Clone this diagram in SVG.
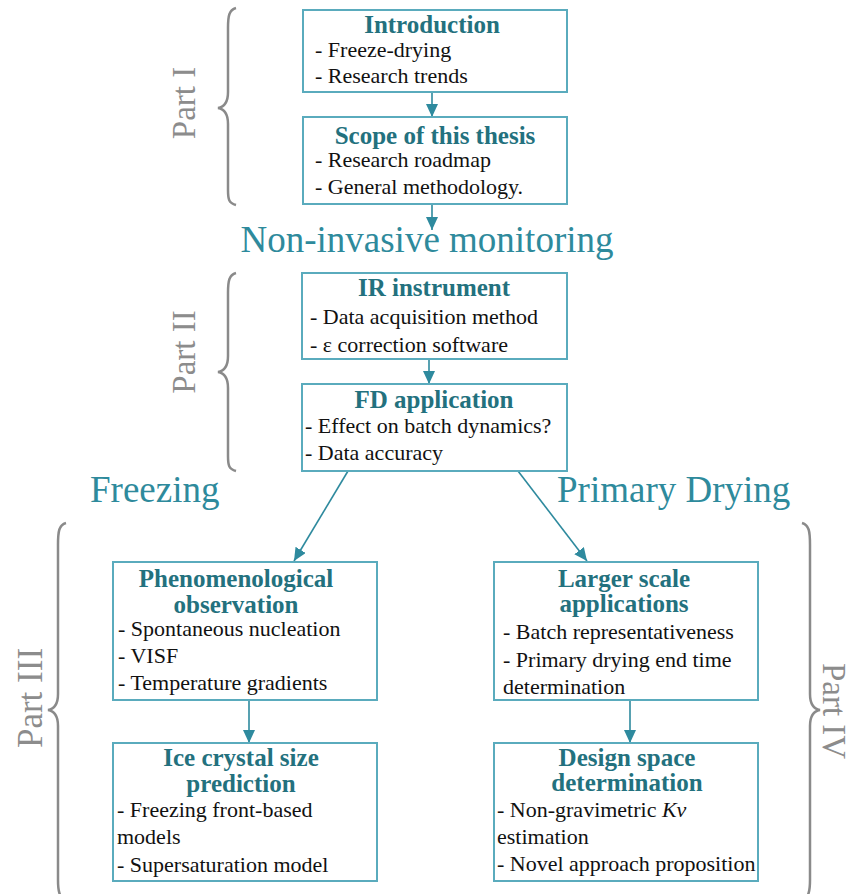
<svg xmlns="http://www.w3.org/2000/svg" width="854" height="894" viewBox="0 0 854 894">
<defs>
<marker id="ah" markerUnits="userSpaceOnUse" markerWidth="14" markerHeight="12" viewBox="0 0 14 12" refX="13" refY="6" orient="auto">
<path d="M0,0 L13,6 L0,12 Z" fill="#2e8a9e"/>
</marker>
</defs>
<style>
.box{fill:#fff;stroke:#5aabbd;stroke-width:2}
text{font-family:'Liberation Serif','DejaVu Serif',serif}
.t{font-weight:bold;font-size:25px;fill:#23717e;text-anchor:middle}
.b{font-size:22px;fill:#111}
.big{font-size:37px;fill:#2e8a9c}
.part{fill:#8c8c8c;text-anchor:middle}
.brace{fill:none;stroke:#8a8a8a;stroke-width:2.5}
.c{fill:none;stroke:#2e8a9e;stroke-width:1.6;marker-end:url(#ah)}
</style>
<rect width="854" height="894" fill="#fff"/>

<g id="braces">
<path class="brace" d="M236,8 C229,10 228,16 228,28 L228,92 C228,102 224,107 218,108 C224,109 228,114 228,124 L228,190 C228,200 229,203 236,205"/>
<path class="brace" d="M236,273 C229,275 228,281 228,293 L228,356 C228,366 224,371 218,372 C224,373 228,378 228,388 L228,456 C228,466 229,469 236,471"/>
<path class="brace" d="M66,523 C59,525 58,531 58,545 L58,694 C58,704 54,709 48,710 C54,711 58,716 58,726 L58,880 C58,890 59,898 66,900"/>
<path class="brace" d="M802,523 C809,525 810,531 810,545 L810,694 C810,704 814,709 820,710 C814,711 810,716 810,726 L810,880 C810,890 809,898 802,900"/>
</g>
<g id="part-labels">
<text class="part" font-size="33" transform="translate(195,103) rotate(-90)">Part I</text>
<text class="part" font-size="33" transform="translate(195,352) rotate(-90)">Part II</text>
<text class="part" font-size="35" transform="translate(42,698) rotate(-90)">Part III</text>
<text class="part" font-size="33" transform="translate(823,711) rotate(90)">Part IV</text>
</g>

<g id="section-labels">
<text class="big" x="427" y="252" text-anchor="middle">Non-invasive monitoring</text>
<text class="big" x="90" y="502">Freezing</text>
<text class="big" x="557" y="502">Primary Drying</text>
</g>

<g id="connectors">
<line class="c" x1="432" y1="92" x2="432" y2="117"/>
<line class="c" x1="432" y1="204" x2="432" y2="230"/>
<line class="c" x1="429" y1="359" x2="429" y2="384"/>
<line class="c" x1="348" y1="471" x2="294" y2="561"/>
<line class="c" x1="518" y1="471" x2="587" y2="561"/>
<line class="c" x1="249" y1="700" x2="249" y2="743"/>
<line class="c" x1="630" y1="700" x2="630" y2="743"/>
</g>

<g id="introduction">
<rect class="box" x="303" y="10" width="264" height="82"/>
<text class="t" x="432" y="33">Introduction</text>
<text class="b" x="315" y="57">- Freeze-drying</text>
<text class="b" x="315" y="83">- Research trends</text>
</g>

<g id="scope">
<rect class="box" x="303" y="117" width="264" height="87"/>
<text class="t" x="435" y="144">Scope of this thesis</text>
<text class="b" x="315" y="167">- Research roadmap</text>
<text class="b" x="315" y="194">- General methodology.</text>
</g>

<g id="ir-instrument">
<rect class="box" x="302" y="273" width="265" height="86"/>
<text class="t" x="434" y="296">IR instrument</text>
<text class="b" x="310" y="324">- Data acquisition method</text>
<text class="b" x="310" y="352">- ε correction software</text>
</g>

<g id="fd-application">
<rect class="box" x="302" y="384" width="265" height="87"/>
<text class="t" x="434" y="408">FD application</text>
<text class="b" x="305" y="433">- Effect on batch dynamics?</text>
<text class="b" x="305" y="460">- Data accuracy</text>
</g>

<g id="phenomenological">
<rect class="box" x="113" y="562" width="264" height="138"/>
<text class="t" x="236" y="587">Phenomenological</text>
<text class="t" x="236" y="613">observation</text>
<text class="b" x="118" y="636">- Spontaneous nucleation</text>
<text class="b" x="118" y="663">- VISF</text>
<text class="b" x="118" y="690">- Temperature gradients</text>
</g>

<g id="ice-crystal">
<rect class="box" x="113" y="743" width="264" height="138"/>
<text class="t" x="241" y="766">Ice crystal size</text>
<text class="t" x="241" y="792">prediction</text>
<text class="b" x="117" y="817">- Freezing front-based</text>
<text class="b" x="117" y="844">models</text>
<text class="b" x="117" y="872">- Supersaturation model</text>
</g>

<g id="larger-scale">
<rect class="box" x="494" y="562" width="264" height="138"/>
<text class="t" x="624" y="587">Larger scale</text>
<text class="t" x="624" y="612">applications</text>
<text class="b" x="503" y="639">- Batch representativeness</text>
<text class="b" x="503" y="667">- Primary drying end time</text>
<text class="b" x="503" y="694">determination</text>
</g>

<g id="design-space">
<rect class="box" x="494" y="743" width="264" height="138"/>
<text class="t" x="627" y="766">Design space</text>
<text class="t" x="627" y="791">determination</text>
<text class="b" x="497" y="817">- Non-gravimetric <tspan font-style="italic">Kv</tspan></text>
<text class="b" x="497" y="844">estimation</text>
<text class="b" x="497" y="871">- Novel approach proposition</text>
</g>
</svg>
